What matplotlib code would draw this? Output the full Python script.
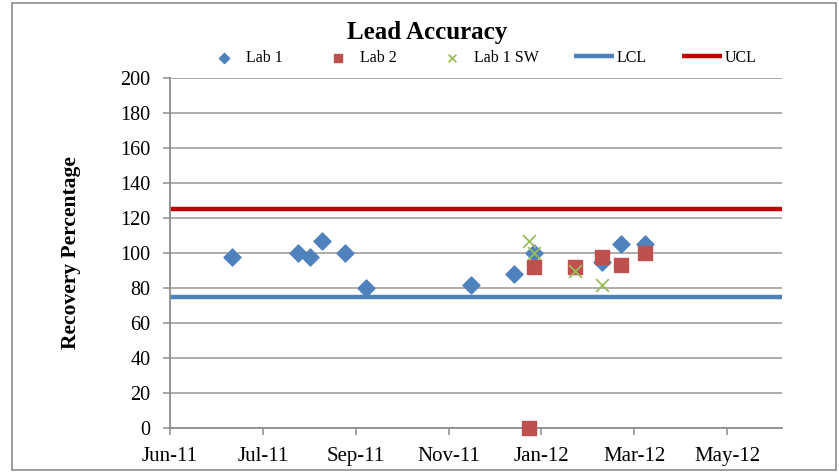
import numpy as np
import pandas as pd
import matplotlib
matplotlib.use("Agg")
import matplotlib.pyplot as plt
import matplotlib.dates as mdates
from matplotlib.patches import Rectangle

plt.rcParams['font.family'] = ['Liberation Serif', 'DejaVu Serif']

# Datos
lab1_dates = ['2011-07-12', '2011-08-24', '2011-09-01', '2011-09-09', '2011-09-24',
              '2011-10-08', '2011-12-16', '2012-01-13', '2012-01-26', '2012-03-11',
              '2012-03-23', '2012-04-08']
lab1_vals = [98, 100, 98, 107, 100, 80, 82, 88, 100, 95, 105, 105]

lab2_dates = ['2012-01-23', '2012-01-26', '2012-02-22', '2012-03-11', '2012-03-23', '2012-04-08']
lab2_vals = [0, 92, 92, 98, 93, 100]

sw_dates = ['2012-01-23', '2012-01-26', '2012-02-22', '2012-03-11']
sw_vals = [107, 100, 90, 82]

axis_start = '2011-06-01'
axis_end = '2012-07-07'
lcl = 75
ucl = 125

tick_labels = ['Jun-11', 'Jul-11', 'Sep-11', 'Nov-11', 'Jan-12', 'Mar-12', 'May-12']
tick_step_days = 61

# Gráfica
fig = plt.figure(figsize=(8.39, 4.73), dpi=100)
ax = fig.add_axes([170/839, 1-428/473, 612/839, 350/473])

x0 = pd.Timestamp(axis_start)
to_num = lambda d: mdates.date2num(pd.to_datetime(d))

ax.plot([to_num(axis_start), to_num(axis_end)], [lcl, lcl], color='#4F81BD', lw=3.2, solid_capstyle='butt', zorder=2, label='LCL')
ax.plot([to_num(axis_start), to_num(axis_end)], [ucl, ucl], color='#C00000', lw=3.2, solid_capstyle='butt', zorder=2, label='UCL')

ax.scatter(to_num(lab1_dates), lab1_vals, marker='D', s=75, color='#4F81BD', zorder=3, label='Lab 1')
ax.scatter(to_num(lab2_dates), lab2_vals, marker='s', s=100, color='#C0504D', zorder=4, label='Lab 2', clip_on=False)
ax.scatter(to_num(sw_dates), sw_vals, marker='x', s=85, color='#9BBB59', linewidths=1.3, zorder=5, label='Lab 1 SW')

ax.set_xlim(to_num(axis_start), to_num(axis_end))
ax.set_ylim(0, 200)
ax.set_yticks(np.arange(0, 201, 20))
xt = [to_num(x0 + pd.Timedelta(days=tick_step_days * i)) for i in range(len(tick_labels))]
ax.set_xticks(xt)
ax.set_xticklabels(tick_labels)

ax.grid(axis='y', color='#A6A6A6', lw=1.3)
ax.set_axisbelow(True)
for s in ['top', 'right']:
    ax.spines[s].set_visible(False)
for s in ['left', 'bottom']:
    ax.spines[s].set_color('#8C8C8C')
    ax.spines[s].set_linewidth(1.3)
ax.tick_params(axis='both', direction='out', length=5, width=1.1, color='#8C8C8C', labelsize=14.5, pad=9)
ax.tick_params(axis='x', labelsize=15)

ax.set_ylabel('Recovery Percentage', fontsize=15.5, fontweight='bold')
ax.yaxis.set_label_coords(-89/612, 0.5)

fig.text(427/839, 1-33/473, 'Lead Accuracy', fontsize=18, fontweight='bold', ha='center', va='center')

handles, labels = ax.get_legend_handles_labels()
order = [labels.index(n) for n in ['Lab 1', 'Lab 2', 'Lab 1 SW', 'LCL', 'UCL']]
fig.legend([handles[i] for i in order], [labels[i] for i in order], ncol=5, frameon=False,
           loc='center', bbox_to_anchor=(480/839, 1-58/473), fontsize=11.5,
           handlelength=2.5, handletextpad=0.15, columnspacing=2.2, scatterpoints=1,
           markerscale=0.6)

fig.patches.append(Rectangle((12/839, 3/473), 824/839, 467/473, transform=fig.transFigure,
                             fill=False, edgecolor='#8C8C8C', lw=1.2))

plt.savefig('out.png', dpi=100)
